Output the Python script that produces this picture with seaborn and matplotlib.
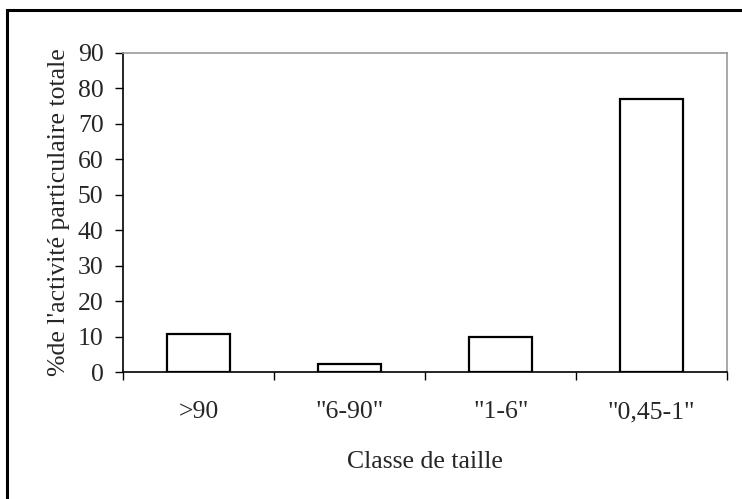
import matplotlib
matplotlib.use("Agg")
import matplotlib.pyplot as plt
import seaborn as sns
import pandas as pd
from matplotlib.patches import Rectangle

# Data
classes = [">90", '"6-90"', '"1-6"', '"0,45-1"']
activity = [10.6, 2.2, 10.0, 77.0]

sns.set_theme(style="white")
plt.rcParams["font.family"] = ["Liberation Serif", "DejaVu Serif"]

df = pd.DataFrame({"classe": classes, "activite": activity})

fig = plt.figure(figsize=(7.42, 4.99), dpi=100)
ax = fig.add_axes([0.1658, 0.2545, 0.8142, 0.6393])

sns.barplot(data=df, x="classe", y="activite", ax=ax, width=0.42,
            color="white", edgecolor="black", linewidth=1.6, saturation=1)

ax.set_xlim(-0.5, 3.5)
ax.set_ylim(0, 90)
ax.set_yticks(range(0, 91, 10))

# Spines: black left/bottom, grey box top/right
for side in ["top", "right"]:
    ax.spines[side].set_color("#999999")
    ax.spines[side].set_linewidth(1.2)
for side in ["left", "bottom"]:
    ax.spines[side].set_color("black")
    ax.spines[side].set_linewidth(1.2)

fs = 18.5
ax.tick_params(axis="y", which="major", direction="out", length=6, width=1,
               color="black", left=True, labelsize=fs, pad=8)
ax.tick_params(axis="x", which="major", length=0, labelsize=fs, pad=21)
ax.set_xticks([-0.5, 0.5, 1.5, 2.5, 3.5], minor=True)
ax.tick_params(axis="x", which="minor", direction="out", length=6, width=1,
               color="black", bottom=True)

ax.set_xlabel("Classe de taille", fontsize=fs, labelpad=20)
ax.set_ylabel("%de l'activité particulaire totale", fontsize=fs)
ax.yaxis.set_label_coords(-0.088, 0.5)

# Outer frame of the chart
fig.patches.append(Rectangle((7 / 742, -0.01), 1.02, 1 - 10 / 499 + 0.01,
                             transform=fig.transFigure, fill=False,
                             edgecolor="black", linewidth=2.2))

fig.savefig("out.png", dpi=100)
